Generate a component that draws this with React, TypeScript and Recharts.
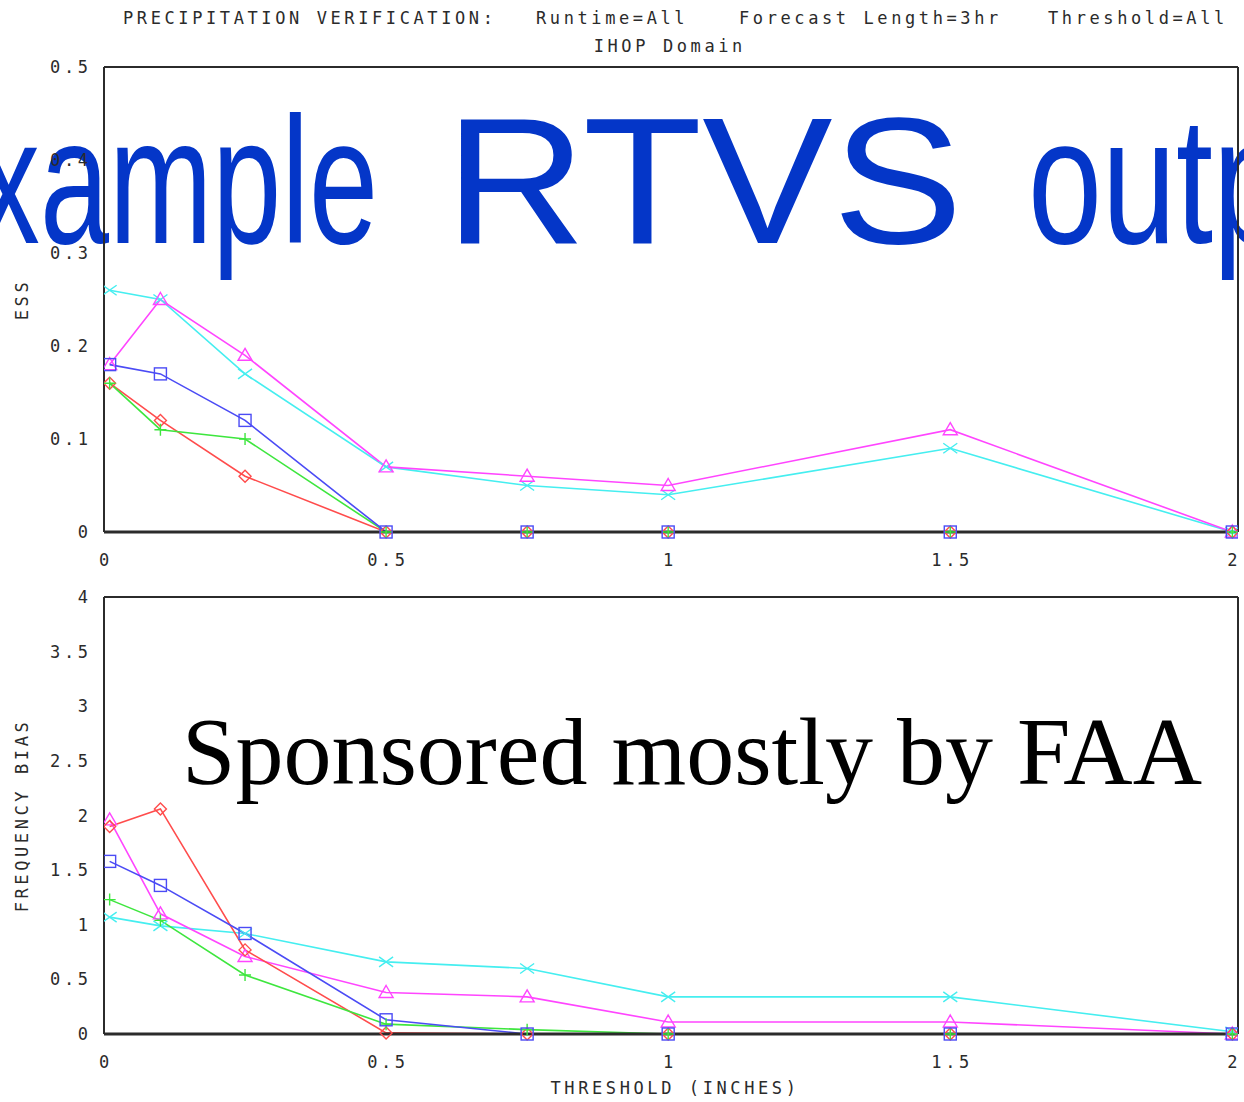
import React from 'react'
import { LineChart, Line, XAxis, YAxis } from 'recharts'

// threshold values (inches) where the scores were computed
const thresholds = [0.01, 0.1, 0.25, 0.5, 0.75, 1, 1.5, 2]
const xTicks = [0, 0.5, 1, 1.5, 2]
const xTopTicks = [0.5, 1, 1.5, 2]
const essTicks = [0, 0.1, 0.2, 0.3, 0.4, 0.5]
const biasTicks = [0, 0.5, 1, 1.5, 2, 2.5, 3, 3.5, 4]

// ESS per model
const essRed = [0.16, 0.12, 0.06, 0, 0, 0, 0, 0]
const essGreen = [0.16, 0.11, 0.1, 0, 0, 0, 0, 0]
const essBlue = [0.18, 0.17, 0.12, 0, 0, 0, 0, 0]
const essMagenta = [0.18, 0.25, 0.19, 0.07, 0.06, 0.05, 0.11, 0]
const essCyan = [0.26, 0.25, 0.17, 0.07, 0.05, 0.04, 0.09, 0]

// frequency bias per model
const biasRed = [1.9, 2.06, 0.77, 0.01, 0, 0, 0, 0]
const biasGreen = [1.23, 1.04, 0.54, 0.09, 0.04, 0, 0, 0]
const biasBlue = [1.58, 1.36, 0.92, 0.13, 0, 0, 0, 0]
const biasMagenta = [1.96, 1.1, 0.71, 0.38, 0.34, 0.11, 0.11, 0]
const biasCyan = [1.07, 0.99, 0.92, 0.66, 0.6, 0.34, 0.34, 0.02]

const essData = thresholds.map((t, i) => ({
  t, red: essRed[i], green: essGreen[i], blue: essBlue[i], magenta: essMagenta[i], cyan: essCyan[i]
}))
const biasData = thresholds.map((t, i) => ({
  t, red: biasRed[i], green: biasGreen[i], blue: biasBlue[i], magenta: biasMagenta[i], cyan: biasCyan[i]
}))

const SERIES = [
  { key: 'cyan', color: '#45eef0', shape: 'cross' },
  { key: 'magenta', color: '#ff45ff', shape: 'triangle' },
  { key: 'red', color: '#ff4c4c', shape: 'diamond' },
  { key: 'green', color: '#3ee63e', shape: 'plus' },
  { key: 'blue', color: '#4b4bf5', shape: 'square' },
]

const INK = '#2b2b2b'
const BLUE = '#0436c8'
const LS = 3.6
const mono: React.CSSProperties = {
  fontFamily: '"DejaVu Sans Mono", "Liberation Mono", monospace',
  fontSize: 17,
  fill: INK,
  letterSpacing: LS,
}
const X_DOMAIN: [number, number] = [0, 2.01]

const Marker = ({ cx, cy, shape, color }: any) => {
  if (cx == null || cy == null) return <g />
  const p = { fill: 'none', stroke: color, strokeWidth: 1.4 }
  if (shape === 'diamond')
    return <path {...p} d={`M${cx} ${cy - 6}L${cx + 6} ${cy}L${cx} ${cy + 6}L${cx - 6} ${cy}Z`} />
  if (shape === 'plus')
    return <path {...p} d={`M${cx - 6} ${cy}H${cx + 6}M${cx} ${cy - 6}V${cy + 6}`} />
  if (shape === 'square') return <rect {...p} x={cx - 6} y={cy - 6} width={12} height={12} />
  if (shape === 'triangle')
    return <path {...p} d={`M${cx} ${cy - 7}L${cx + 7} ${cy + 5}L${cx - 7} ${cy + 5}Z`} />
  return <path {...p} d={`M${cx - 7} ${cy - 5}L${cx + 7} ${cy + 5}M${cx - 7} ${cy + 5}L${cx + 7} ${cy - 5}`} />
}

const YTick = (props: any) => {
  const { x, y, payload } = props
  return (
    <text x={x + LS} y={y} dy="0.36em" textAnchor="end" style={mono}>
      {String(payload.value)}
    </text>
  )
}

const XTick = (props: any) => {
  const { x, y, payload } = props
  return (
    <text x={x + LS / 2} y={y} dy="0.72em" textAnchor="middle" style={mono}>
      {String(payload.value)}
    </text>
  )
}

const YTitle = (props: any) => {
  const { viewBox, text } = props
  const cy = viewBox.y + viewBox.height / 2
  return (
    <text x={22} y={cy} transform={`rotate(-90 22 ${cy})`} textAnchor="middle" dominantBaseline="central" style={mono}>
      {text}
    </text>
  )
}

const XTitle = (props: any) => {
  const { viewBox, text } = props
  const cx = viewBox.x + viewBox.width / 2 + 4
  return (
    <text x={cx} y={viewBox.y + 54} textAnchor="middle" dominantBaseline="central" style={mono}>
      {text}
    </text>
  )
}

type PanelProps = {
  data: any[]
  yTicks: number[]
  yMax: number
  yTitle: string
  height: number
  marginTop: number
  axisHeight: number
  xTitle?: string
}

const Panel = ({ data, yTicks, yMax, yTitle, height, marginTop, axisHeight, xTitle }: PanelProps) => {
  const frame = { stroke: INK, strokeWidth: 2 }
  return (
    <LineChart width={1244} height={height} data={data} margin={{ top: marginTop, right: 6, left: 0, bottom: 0 }}>
      <XAxis
        dataKey="t" type="number" domain={X_DOMAIN} allowDataOverflow ticks={xTicks} interval={0}
        height={axisHeight} axisLine={{ stroke: INK, strokeWidth: 3 }} tickLine={false}
        tickSize={8} tickMargin={14} tick={<XTick />}
        label={xTitle ? <XTitle text={xTitle} /> : undefined}
      />
      <XAxis
        xAxisId="bottomIn" orientation="bottom" mirror type="number" domain={X_DOMAIN} allowDataOverflow
        ticks={xTopTicks} interval={0} axisLine={false} tickLine={frame} tickSize={8} tick={false}
      />
      <XAxis
        xAxisId="top" orientation="top" mirror type="number" domain={X_DOMAIN} allowDataOverflow
        ticks={xTopTicks} interval={0} axisLine={frame} tickLine={frame} tickSize={8} tick={false}
      />
      <YAxis
        type="number" domain={[0, yMax]} ticks={yTicks} interval={0} width={104}
        axisLine={false} tickLine={false} tickSize={8} tickMargin={8} tick={<YTick />}
        label={<YTitle text={yTitle} />}
      />
      <YAxis
        yAxisId="leftIn" orientation="left" mirror type="number" domain={[0, yMax]} allowDataOverflow
        ticks={yTicks} interval={0} axisLine={frame} tickLine={frame} tickSize={9} tick={false}
      />
      <YAxis
        yAxisId="right" orientation="right" mirror type="number" domain={[0, yMax]} allowDataOverflow
        ticks={yTicks} interval={0} axisLine={frame} tickLine={frame} tickSize={9} tick={false}
      />
      {SERIES.map(s => (
        <Line
          key={s.key} dataKey={s.key} type="linear" stroke={s.color} strokeWidth={1.6}
          isAnimationActive={false}
          dot={(p: any) => <Marker key={`${s.key}-${p.index}`} cx={p.cx} cy={p.cy} shape={s.shape} color={s.color} />}
        />
      ))}
    </LineChart>
  )
}

const App = () => {
  return (
    <div style={{ position: 'absolute', left: 0, top: 0, width: 1244, height: 1102, overflow: 'hidden', background: '#fff' }}>
      <svg width={1244} height={1102} style={{ position: 'absolute', left: 0, top: 0 }}>
        <text x={123} y={24} style={mono}>PRECIPITATION VERIFICATION:</text>
        <text x={536} y={24} style={mono}>Runtime=All</text>
        <text x={739} y={24} style={mono}>Forecast Length=3hr</text>
        <text x={1048} y={24} style={mono}>Threshold=All</text>
        <text x={668 + LS / 2} y={52} textAnchor="middle" style={mono}>IHOP Domain</text>
        <g fill={BLUE} fontFamily='"Liberation Sans", Arial, sans-serif' fontSize={180}>
          <text x={-105} y={243} textLength={483} lengthAdjust="spacingAndGlyphs">Example</text>
          <text x={445} y={243} textLength={518} lengthAdjust="spacingAndGlyphs">RTVS</text>
          <text x={1028} y={243} textLength={370} lengthAdjust="spacingAndGlyphs">output</text>
        </g>
        <text
          x={182} y={784} fill="#000" fontFamily='"Liberation Serif", "Times New Roman", serif' fontSize={95}
          textLength={1020} lengthAdjust="spacingAndGlyphs"
        >
          Sponsored mostly by FAA
        </text>
      </svg>
      <div style={{ position: 'absolute', left: 0, top: 0 }}>
        <Panel data={essData} yTicks={essTicks} yMax={0.5} yTitle="ESS" height={580} marginTop={67} axisHeight={48} />
      </div>
      <div style={{ position: 'absolute', left: 0, top: 540 }}>
        <Panel
          data={biasData} yTicks={biasTicks} yMax={4} yTitle="FREQUENCY BIAS" height={562} marginTop={57}
          axisHeight={68} xTitle="THRESHOLD (INCHES)"
        />
      </div>
    </div>
  )
}

export default App
